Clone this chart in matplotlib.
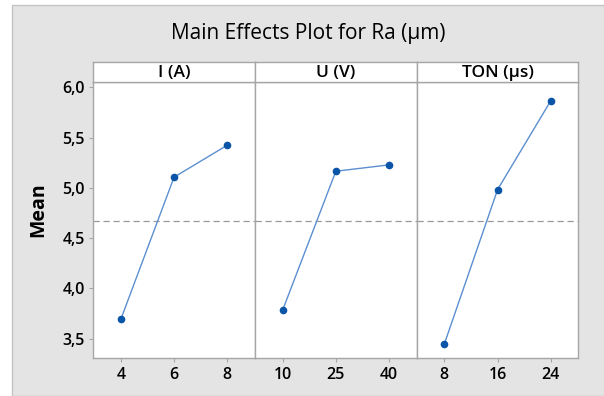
import matplotlib
matplotlib.use("Agg")
import matplotlib.pyplot as plt
from matplotlib.patches import Rectangle

# values
factors = ["I (A)", "U (V)", "TON (µs)"]
levels = [["4", "6", "8"], ["10", "25", "40"], ["8", "16", "24"]]
means = [
    [3.695, 5.107, 5.425],
    [3.785, 5.166, 5.229],
    [3.450, 4.984, 5.867],
]
grand_mean = 4.67
y_ticks = [3.5, 4.0, 4.5, 5.0, 5.5, 6.0]

plt.rcParams['font.family'] = ['Open Sans', 'DejaVu Sans']

fig = plt.figure(figsize=(6.04, 3.96), dpi=100, facecolor="white")
bg = Rectangle((12 / 604, 0), 1, 1 - 5 / 396, transform=fig.transFigure,
               facecolor="#e4e4e4", edgecolor="#c4c4c4", lw=1, zorder=-10)
fig.add_artist(bg)

left, right = 93.2 / 604, 578.5 / 604
bottom, top = 1 - 358.3 / 396, 1 - 82.3 / 396
strip_top = 1 - 61.7 / 396
w = (right - left) / 3
edge = "#a6a6a6"

for i, name in enumerate(factors):
    ax = fig.add_axes([left + i * w, bottom, w, top - bottom])
    ax.set_facecolor("white")
    x = [1, 2, 3]
    ax.plot(x, means[i], color="#5b8fd0", lw=1.0, zorder=3)
    ax.plot(x, means[i], "o", color="#0b55a8", ms=4.5, zorder=4)
    ax.axhline(grand_mean, color="#9a9a9a", lw=0.9, ls=(0, (5, 3)), zorder=2)
    ax.set_xlim(0.48, 3.52)
    ax.set_ylim(3.306, 6.05)
    ax.set_xticks(x)
    ax.set_xticklabels(levels[i], fontsize=11.5, fontweight="semibold")
    ax.set_yticks(y_ticks)
    if i == 0:
        ax.set_yticklabels([f"{v:.1f}".replace(".", ",") for v in y_ticks],
                           fontsize=11.5, fontweight="semibold")
    else:
        ax.tick_params(axis="y", left=False, labelleft=False)
    ax.tick_params(colors=edge, labelcolor="black", length=3, width=0.8, pad=3)
    for s in ax.spines.values():
        s.set_color(edge)
        s.set_linewidth(1.0)

    sax = fig.add_axes([left + i * w, top, w, strip_top - top])
    sax.set_facecolor("white")
    sax.set_xticks([])
    sax.set_yticks([])
    for s in sax.spines.values():
        s.set_color(edge)
        s.set_linewidth(1.0)
    sax.text(0.5, 0.45, name, ha="center", va="center", fontsize=12.5,
             fontweight="semibold", transform=sax.transAxes)

fig.text(38 / 604, 1 - 210 / 396, "Mean", rotation=90, ha="center", va="center",
         fontsize=14, fontweight="bold")
fig.text(308 / 604, 1 - 33 / 396, "Main Effects Plot for Ra (µm)", ha="center",
         va="center", fontsize=15)

fig.savefig("out.png", dpi=100, facecolor=fig.get_facecolor())
